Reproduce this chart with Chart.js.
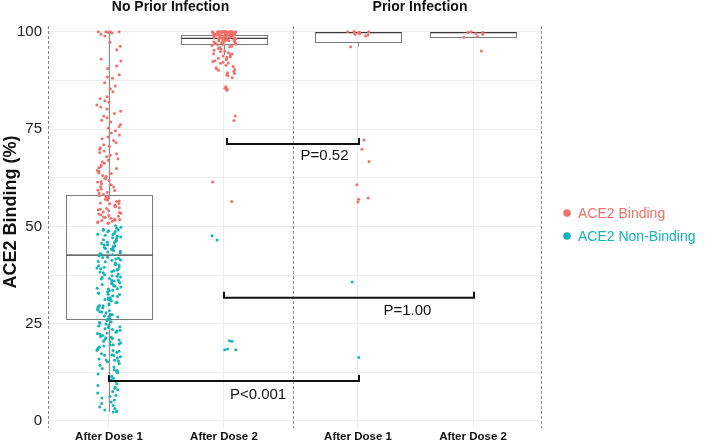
<!DOCTYPE html>
<html>
<head>
<meta charset="utf-8">
<script src="https://cdn.jsdelivr.net/npm/chart.js@4/dist/chart.umd.min.js"></script>
<style>
html,body{margin:0;padding:0;background:#fff;}
#wrap{width:706px;height:443px;}
</style>
</head>
<body>
<div id="wrap"><canvas id="c" width="706" height="443"></canvas></div>
<script>
// ---------- DATA ----------
const panels = ['No Prior Infection', 'Prior Infection'];
const categories = ['After Dose 1', 'After Dose 2', 'After Dose 1', 'After Dose 2'];
const seriesNames = ['ACE2 Binding', 'ACE2 Non-Binding'];
const yTickLabels = [0, 25, 50, 75, 100];

// No prior infection, after dose 1
const noPriorDose1Binding = [
  100, 100, 100, 100, 99.9, 99.7, 99.4, 98.9,
  97.3, 96.3, 95.4, 93.0, 92.5, 91.2, 90.6,
  89.0, 88.4, 88.1, 86.9, 86.1, 85.3,
  84.6, 83.3, 82.9, 82.3, 81.9, 81.2, 80.7, 80.2,
  79.6, 79.0, 78.4, 77.9, 77.3, 76.8, 76.2, 75.7, 75.2,
  74.6, 74.0, 73.5, 73.0, 72.5, 72.1, 71.5, 71.0, 70.6, 70.2,
  69.8, 69.4, 69.0, 68.7, 68.3, 67.9, 67.4, 67.0, 66.6, 66.2, 65.8, 65.4, 65.1,
  64.9, 64.4, 64.1, 63.7, 63.6, 63.1, 62.8, 62.4, 62.3, 61.8, 61.5, 61.4, 60.9, 60.7, 60.2, 60.1, 59.6, 59.3, 59.2, 58.8, 58.5, 58.2,
  57.9, 57.6, 57.4, 57.0, 56.8, 56.5, 56.4, 56.0, 55.8, 55.5, 55.2, 55.1, 54.8, 54.4, 54.3, 54.0, 53.7, 53.6, 53.2, 53.0,
  52.8, 52.6, 52.3, 52.1, 51.9, 51.8, 51.5, 51.3, 51.2, 51.0, 50.9, 50.8, 57.2, 55.9, 54.6, 53.4, 52.4, 51.6
];
const noPriorDose1NonBinding = [
  50.2, 49.8, 49.5, 49.3, 49.0, 48.7, 48.6, 48.2, 48.0, 47.7, 47.5, 47.1, 46.9, 46.6, 46.4, 46.1, 45.8, 45.6, 45.3, 45.0,
  44.9, 44.6, 44.3, 44.2, 43.8, 43.6, 43.4, 43.0, 42.9, 42.7, 49.1, 47.9, 46.3, 45.2, 44.0, 43.2, 48.9, 47.3, 45.9, 44.5,
  42.4, 42.1, 42.0, 41.8, 41.4, 41.3, 41.0, 40.9, 40.6, 40.3, 40.1, 39.9, 39.6, 39.5, 39.1, 39.0, 38.8, 38.4, 38.3, 38.1,
  37.8, 37.6, 37.3, 37.2, 36.9, 36.6, 36.5, 36.2, 36.0, 35.8, 35.5, 35.3, 35.1, 34.8, 34.6, 34.4, 34.1, 33.9, 33.6, 33.5,
  33.2, 32.9, 32.8, 32.5, 32.2, 32.0, 31.7, 31.6, 31.3, 31.2, 30.9, 30.5, 30.4, 30.1, 29.8, 29.7, 29.4, 29.1, 29.0, 28.7,
  28.5, 28.1, 28.0, 27.8, 27.4, 27.3, 27.1, 26.8, 26.7, 26.4, 41.6, 40.2, 38.6, 37.0, 35.4, 34.0, 32.6, 31.0, 29.6, 28.3,
  27.0, 39.3, 36.1,
  26.0, 25.8, 25.5, 25.1, 24.9, 24.6, 24.2, 24.0, 23.7, 23.3, 23.1, 22.8, 22.5, 22.3, 22.0, 21.7, 21.5, 21.2, 21.0, 20.8,
  20.5, 20.3, 20.1, 25.3, 24.4, 23.5, 22.6, 21.4,
  19.8, 19.5, 19.3, 19.0, 18.7, 18.4, 18.1, 17.9, 17.6, 17.3, 17.0, 16.8, 16.5, 16.2, 15.9, 15.7, 15.4, 15.2, 19.6, 18.2,
  16.9, 15.6,
  14.8, 14.3, 13.9, 13.5, 13.2, 12.8, 12.4, 12.1, 11.5, 11.0, 10.6, 10.2, 13.0,
  9.6, 9.1, 8.7, 8.4, 8.0, 7.6, 7.2, 6.6, 6.3, 5.9, 5.4, 4.9, 4.5, 4.0, 3.6, 3.2, 2.8, 2.6, 2.4, 2.3
];
// No prior infection, after dose 2
const noPriorDose2Binding = [
  100, 100, 100, 100, 100, 100, 100, 100, 100, 100, 100, 100, 100, 100, 100, 100, 100, 100,
  99.9, 99.8, 99.8, 99.7, 99.6, 99.6, 99.5, 99.4, 99.4, 99.3, 99.2, 99.1, 99.0, 99.9, 99.7, 99.5, 99.3, 99.1, 99.8, 99.6,
  99.2, 99.0, 99.4, 99.7, 99.5,
  98.9, 98.8, 98.6, 98.5, 98.3, 98.2, 98.0, 98.7, 98.4, 98.1, 98.9, 98.5, 98.3, 98.6, 98.0, 98.8,
  97.9, 97.7, 97.5, 97.3, 97.1, 97.8, 97.4, 97.0, 97.6, 97.2, 97.9, 97.5,
  96.8, 96.5, 96.2, 96.0, 96.7, 96.3, 96.9,
  95.7, 95.3, 95.0, 95.5,
  94.6, 94.1, 93.5, 93.0, 92.6, 92.2, 91.4, 90.8, 90.1, 89.3, 88.9, 88.7, 88.2,
  94.9, 94.3, 93.8, 93.2, 92.9, 92.4, 91.9, 91.1, 90.5, 89.8, 89.5, 93.6, 94.4, 92.0, 90.3,
  85.9, 85.5, 85.3, 85.0, 78.4, 77.2, 61.4, 56.4
];
const noPriorDose2NonBinding = [47.6, 46.5, 20.6, 20.5, 18.3, 18.3, 18.5];
// Prior infection, after dose 1
const priorDose1Binding = [100, 100, 100, 100, 99.9, 99.8, 99.7, 99.6, 99.5, 99.4, 99.2, 98.9, 96.2, 72.2, 69.8, 66.7, 60.7, 57.3, 56.3, 57.0];
const priorDose1NonBinding = [35.7, 16.3];
// Prior infection, after dose 2
const priorDose2Binding = [100, 99.9, 99.8, 99.6, 99.4, 98.8, 98.6, 95.1];
const priorDose2NonBinding = [];

// Box plot statistics per category
const boxQ1 = [26.2, 96.9, 97.3, 98.8];
const boxMedian = [42.6, 98.3, 99.8, 99.8];
const boxQ3 = [58.1, 99.2, 99.9, 99.9];
const whiskerLow = [2.3, 94.0, 96.2, 98.8];
const whiskerHigh = [100, 100, 100, 100];

// Pairwise comparisons (category indices)
const compFrom = [1, 1, 0];
const compTo = [2, 3, 2];
const compLevel = [71.2, 31.7, 10.3];
const compLabels = ['P=0.52', 'P=1.00', 'P<0.001'];

// ---------- LAYOUT / STYLE ----------
const xPos = [1, 2, 3.165, 4.165];
const xMin = 0.47, xMax = 4.756, panelSplit = 2.6;
const compLabelPos = [[2.874, 68.1], [3.595, 28.3], [2.296, 6.7]];
const RED = '#F0706A', TEAL = '#12B5B8';
const FONT = '"Liberation Sans", Arial, Helvetica, sans-serif';

function jitter(i, g) {
  const s = Math.sin((i + 1) * 12.9898 + g * 78.233) * 43758.5453;
  return (s - Math.floor(s) - 0.5) * 0.21;
}
const bindingGroups = [noPriorDose1Binding, noPriorDose2Binding, priorDose1Binding, priorDose2Binding];
const nonBindingGroups = [noPriorDose1NonBinding, noPriorDose2NonBinding, priorDose1NonBinding, priorDose2NonBinding];
function buildPoints(groups, seed) {
  const pts = [];
  groups.forEach((arr, g) => arr.forEach((v, i) => pts.push({ x: xPos[g] + jitter(i, g + seed), y: v })));
  return pts;
}

const overlay = {
  id: 'overlay',
  beforeDatasetsDraw(chart) {
    const { ctx, chartArea: a, scales: { x, y } } = chart;
    ctx.save();
    // dashed panel borders
    ctx.strokeStyle = '#8a8a8a'; ctx.lineWidth = 1; ctx.setLineDash([3, 2]);
    [xMin, panelSplit, xMax].forEach(v => {
      const px = Math.round(x.getPixelForValue(v)) + 0.5;
      ctx.beginPath(); ctx.moveTo(px, a.top); ctx.lineTo(px, a.bottom); ctx.stroke();
    });
    ctx.setLineDash([]);
    // boxes
    const hw = 0.372;
    for (let g = 0; g < 4; g++) {
      const cx = Math.round(x.getPixelForValue(xPos[g])) + 0.5;
      const l = Math.round(x.getPixelForValue(xPos[g] - hw)) + 0.5;
      const r = Math.round(x.getPixelForValue(xPos[g] + hw)) + 0.5;
      const yq1 = y.getPixelForValue(boxQ1[g]), yq3 = y.getPixelForValue(boxQ3[g]);
      ctx.strokeStyle = '#8c8c8c'; ctx.lineWidth = 1;
      ctx.beginPath(); ctx.moveTo(cx, yq1); ctx.lineTo(cx, y.getPixelForValue(whiskerLow[g])); ctx.stroke();
      ctx.beginPath(); ctx.moveTo(cx, yq3); ctx.lineTo(cx, y.getPixelForValue(whiskerHigh[g])); ctx.stroke();
      ctx.strokeStyle = '#7a7a7a';
      ctx.strokeRect(l, Math.round(yq3) + 0.5, r - l, Math.round(yq1) - Math.round(yq3));
      ctx.strokeStyle = '#3a3a3a'; ctx.lineWidth = 1.3;
      const ym = y.getPixelForValue(boxMedian[g]);
      ctx.beginPath(); ctx.moveTo(l, ym); ctx.lineTo(r, ym); ctx.stroke();
    }
    ctx.restore();
  },
  afterDatasetsDraw(chart) {
    const { ctx, chartArea: a, scales: { x, y } } = chart;
    ctx.save();
    // comparison brackets
    ctx.strokeStyle = '#111'; ctx.lineWidth = 2;
    for (let k = 0; k < compFrom.length; k++) {
      let x1 = x.getPixelForValue(xPos[compFrom[k]]);
      const x2 = x.getPixelForValue(xPos[compTo[k]]) + 1;
      if (k === 0) x1 += 3;
      const yy = y.getPixelForValue(compLevel[k]);
      ctx.beginPath();
      ctx.moveTo(x1, yy - 6); ctx.lineTo(x1, yy); ctx.lineTo(x2, yy); ctx.lineTo(x2, yy - 6);
      ctx.stroke();
      ctx.fillStyle = '#111'; ctx.font = '15px ' + FONT;
      ctx.textAlign = 'center'; ctx.textBaseline = 'middle';
      ctx.fillText(compLabels[k], x.getPixelForValue(compLabelPos[k][0]), y.getPixelForValue(compLabelPos[k][1]));
    }
    // facet titles
    ctx.fillStyle = '#111'; ctx.font = 'bold 14px ' + FONT;
    ctx.textAlign = 'center'; ctx.textBaseline = 'middle';
    ctx.fillText(panels[0], (x.getPixelForValue(xMin) + x.getPixelForValue(panelSplit)) / 2, 7);
    ctx.fillText(panels[1], (x.getPixelForValue(panelSplit) + x.getPixelForValue(xMax)) / 2 + 3, 7);
    // y title
    ctx.save();
    ctx.translate(11, 212);
    ctx.rotate(-Math.PI / 2);
    ctx.font = 'bold 18px ' + FONT;
    ctx.fillText('ACE2 Binding (%)', 0, 0);
    ctx.restore();
    // legend
    const lx = 567, ly = [213, 236], cols = [RED, TEAL];
    for (let k = 0; k < 2; k++) {
      ctx.fillStyle = cols[k];
      ctx.beginPath(); ctx.arc(lx, ly[k], 3.8, 0, Math.PI * 2); ctx.fill();
      ctx.font = '14px ' + FONT; ctx.textAlign = 'left'; ctx.textBaseline = 'middle';
      ctx.fillText(seriesNames[k], 578, ly[k] + 1);
    }
    ctx.restore();
  }
};

new Chart(document.getElementById('c'), {
  type: 'scatter',
  data: {
    datasets: [
      { label: seriesNames[0], data: buildPoints(bindingGroups, 0), backgroundColor: RED, borderWidth: 0, pointRadius: 1.5, pointHoverRadius: 1.5 },
      { label: seriesNames[1], data: buildPoints(nonBindingGroups, 10), backgroundColor: TEAL, borderWidth: 0, pointRadius: 1.5, pointHoverRadius: 1.5 }
    ]
  },
  options: {
    responsive: false,
    animation: false,
    devicePixelRatio: 1,
    layout: { padding: { left: 0, right: 165, top: 26, bottom: 0 } },
    plugins: { legend: { display: false }, tooltip: { enabled: false } },
    scales: {
      x: {
        type: 'linear', min: xMin, max: xMax,
        afterBuildTicks: s => { s.ticks = xPos.map(v => ({ value: v })); },
        afterFit: s => { s.height = 15; },
        ticks: {
          autoSkip: false, maxRotation: 0, padding: 2, color: '#111',
          font: { family: FONT, size: 11.5, weight: 'bold' },
          callback: (v) => { const i = xPos.indexOf(v); return i >= 0 ? categories[i] : ''; }
        },
        grid: { color: '#ececec', lineWidth: 1, drawTicks: false },
        border: { display: false }
      },
      y: {
        type: 'linear', min: -1.8, max: 101.5,
        afterBuildTicks: s => { const t = []; for (let v = 0; v <= 100; v += 12.5) t.push({ value: v }); s.ticks = t; },
        afterFit: s => { s.width = 48; },
        ticks: {
          padding: 6, color: '#222',
          font: { family: FONT, size: 15 },
          callback: v => (yTickLabels.includes(v) ? String(v) : '')
        },
        grid: { color: '#ececec', lineWidth: 1, drawTicks: false },
        border: { display: false }
      }
    }
  },
  plugins: [overlay]
});
</script>
</body>
</html>
